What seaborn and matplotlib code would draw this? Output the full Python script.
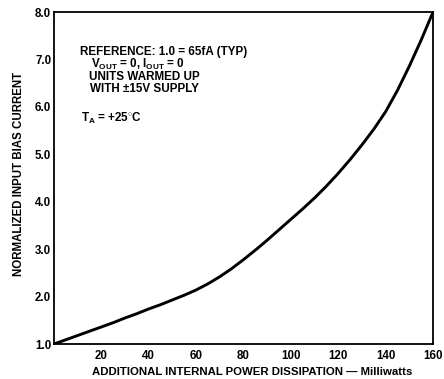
import matplotlib
matplotlib.use("Agg")
import matplotlib.pyplot as plt
import seaborn as sns
import pandas as pd

power_mw = [0, 5, 10, 15, 20, 25, 30, 35, 40, 45, 50, 55, 60, 65, 70, 75, 80,
            85, 90, 95, 100, 105, 110, 115, 120, 125, 130, 135, 140, 145, 150, 155, 160]
bias_norm = [1.0, 1.09, 1.18, 1.27, 1.36, 1.45, 1.55, 1.64, 1.74, 1.83, 1.93, 2.03, 2.14,
             2.27, 2.42, 2.59, 2.78, 2.98, 3.19, 3.41, 3.63, 3.85, 4.08, 4.33, 4.60, 4.89,
             5.20, 5.53, 5.90, 6.35, 6.86, 7.41, 8.0]
x_ticks = [20, 40, 60, 80, 100, 120, 140, 160]
y_ticks = [1.0, 2.0, 3.0, 4.0, 5.0, 6.0, 7.0, 8.0]

sns.set_theme(style="white")
plt.rcParams['font.family'] = ['Liberation Sans', 'DejaVu Sans']
plt.rcParams['mathtext.fontset'] = 'custom'
plt.rcParams['mathtext.rm'] = 'Liberation Sans:bold'
plt.rcParams['mathtext.it'] = 'Liberation Sans:bold'
plt.rcParams['mathtext.bf'] = 'Liberation Sans:bold'
plt.rcParams['text.color'] = 'black'
plt.rcParams['axes.labelcolor'] = 'black'
plt.rcParams['xtick.color'] = 'black'
plt.rcParams['ytick.color'] = 'black'

df = pd.DataFrame({"P": power_mw, "I": bias_norm})

fig = plt.figure(figsize=(4.44, 3.79), dpi=100)
ax = fig.add_axes([0.1216, 0.0923, 0.8536, 0.8757])
sns.lineplot(data=df, x="P", y="I", ax=ax, color="black", linewidth=2.1)

ax.set_xlim(0, 160)
ax.set_ylim(1.0, 8.0)
ax.set_xticks(x_ticks)
ax.set_xticklabels([str(t) for t in x_ticks], fontsize=8.3, fontweight="bold")
ax.set_yticks(y_ticks)
ax.set_yticklabels([f"{t:.1f}" for t in y_ticks], fontsize=8.3, fontweight="bold")
ax.tick_params(axis="y", length=0, pad=2)
ax.tick_params(axis="x", length=0, pad=4)
for s in ax.spines.values():
    s.set_color("black")
    s.set_linewidth(1.3)

ax.set_xlabel("ADDITIONAL INTERNAL POWER DISSIPATION \u2014 Milliwatts", fontsize=8.2,
              fontweight="bold")
ax.set_ylabel("NORMALIZED INPUT BIAS CURRENT", fontsize=8.3, fontweight="bold")
ax.xaxis.set_label_coords(0.522, -0.069)
ax.yaxis.set_label_coords(-0.076, 0.512)

kw = dict(transform=ax.transAxes, fontsize=8.4, va="center", ha="left", fontweight="bold")
def px(x, y):
    return ((x - 54) / 379.0, (344 - y) / 332.0)

ax.text(*px(80, 52), "REFERENCE: 1.0 = 65fA (TYP)", **kw)
ax.text(*px(91, 64.5), r"V$_{\mathrm{OUT}}$ = 0, I$_{\mathrm{OUT}}$ = 0", **kw)
ax.text(*px(89.5, 76.7), "UNITS WARMED UP", **kw)
ax.text(*px(90, 88.5), "WITH \u00b115V SUPPLY", **kw)
ax.text(*px(80.7, 118), r"T$_{\mathrm{A}}$ = +25$^{\circ}$C", **kw)

fig.savefig("out.png", dpi=100)
